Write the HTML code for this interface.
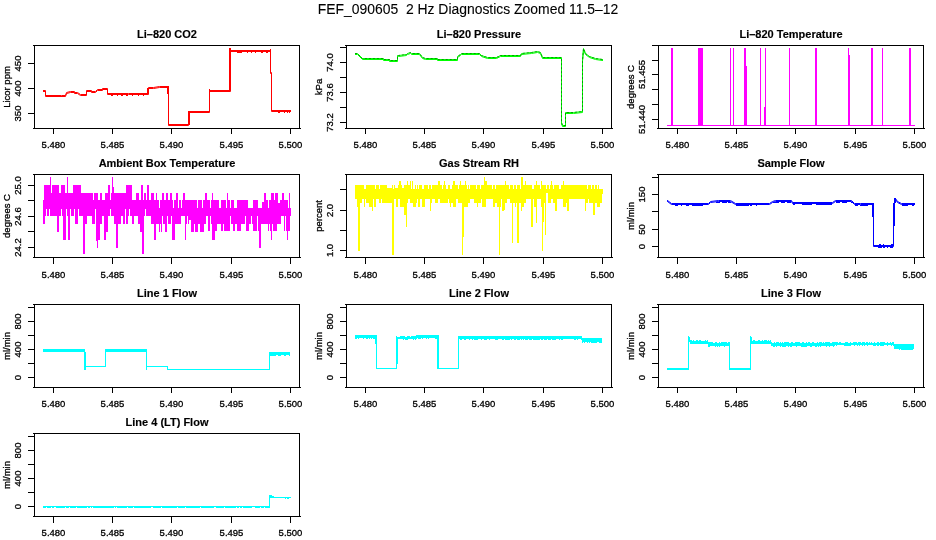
<!DOCTYPE html>
<html><head><meta charset="utf-8"><title>FEF_090605 2 Hz Diagnostics Zoomed 11.5-12</title>
<style>
html,body{margin:0;padding:0;background:#fff;}
body{width:936px;height:540px;overflow:hidden;font-family:"Liberation Sans",sans-serif;}
svg{display:block;will-change:transform;}
text{stroke:#000;stroke-width:0.3px;}
text.b{stroke-width:0.15px;}
text.m{stroke-width:0.1px;}
</style></head><body>
<svg width="936" height="540" viewBox="0 0 936 540" font-family="'Liberation Sans', sans-serif" fill="#000">
<text x="468" y="13.6" text-anchor="middle" font-size="13.92" xml:space="preserve" style="white-space:pre" class="m">FEF_090605  2 Hz Diagnostics Zoomed 11.5–12</text>
<g shape-rendering="crispEdges" fill="#000">
<rect x="33" y="45" width="267" height="1"/>
<rect x="33" y="128" width="268" height="1"/>
<rect x="34" y="45" width="1" height="84"/>
<rect x="299" y="45" width="1" height="84"/>
<rect x="53" y="129" width="1" height="5"/>
<rect x="112" y="129" width="1" height="5"/>
<rect x="171" y="129" width="1" height="5"/>
<rect x="231" y="129" width="1" height="5"/>
<rect x="290" y="129" width="1" height="5"/>
<rect x="28" y="63" width="6" height="1"/>
<rect x="28" y="88" width="6" height="1"/>
<rect x="28" y="113" width="6" height="1"/>
</g>
<text x="53.5" y="148.2" text-anchor="middle" font-size="9.5">5.480</text>
<text x="112.5" y="148.2" text-anchor="middle" font-size="9.5">5.485</text>
<text x="171.5" y="148.2" text-anchor="middle" font-size="9.5">5.490</text>
<text x="231.5" y="148.2" text-anchor="middle" font-size="9.5">5.495</text>
<text x="290.5" y="148.2" text-anchor="middle" font-size="9.5">5.500</text>
<text transform="translate(21.3 63.5) rotate(-90)" text-anchor="middle" font-size="9.5">450</text>
<text transform="translate(21.3 88.5) rotate(-90)" text-anchor="middle" font-size="9.5">400</text>
<text transform="translate(21.3 113.5) rotate(-90)" text-anchor="middle" font-size="9.5">350</text>
<text transform="translate(10 87) rotate(-90)" text-anchor="middle" font-size="9.5">Licor ppm</text>
<text x="167" y="38" text-anchor="middle" font-size="11" font-weight="bold" class="b">Li–820 CO2</text>
<g shape-rendering="crispEdges" fill="#000">
<rect x="345" y="45" width="267" height="1"/>
<rect x="345" y="128" width="268" height="1"/>
<rect x="346" y="45" width="1" height="84"/>
<rect x="611" y="45" width="1" height="84"/>
<rect x="365" y="129" width="1" height="5"/>
<rect x="424" y="129" width="1" height="5"/>
<rect x="483" y="129" width="1" height="5"/>
<rect x="543" y="129" width="1" height="5"/>
<rect x="602" y="129" width="1" height="5"/>
<rect x="340" y="47" width="6" height="1"/>
<rect x="340" y="62" width="6" height="1"/>
<rect x="340" y="77" width="6" height="1"/>
<rect x="340" y="92" width="6" height="1"/>
<rect x="340" y="107" width="6" height="1"/>
<rect x="340" y="122" width="6" height="1"/>
</g>
<text x="365.5" y="148.2" text-anchor="middle" font-size="9.5">5.480</text>
<text x="424.5" y="148.2" text-anchor="middle" font-size="9.5">5.485</text>
<text x="483.5" y="148.2" text-anchor="middle" font-size="9.5">5.490</text>
<text x="543.5" y="148.2" text-anchor="middle" font-size="9.5">5.495</text>
<text x="602.5" y="148.2" text-anchor="middle" font-size="9.5">5.500</text>
<text transform="translate(333.3 62.5) rotate(-90)" text-anchor="middle" font-size="9.5">74.0</text>
<text transform="translate(333.3 92.5) rotate(-90)" text-anchor="middle" font-size="9.5">73.6</text>
<text transform="translate(333.3 122.5) rotate(-90)" text-anchor="middle" font-size="9.5">73.2</text>
<text transform="translate(322 87) rotate(-90)" text-anchor="middle" font-size="9.5">kPa</text>
<text x="479" y="38" text-anchor="middle" font-size="11" font-weight="bold" class="b">Li–820 Pressure</text>
<g shape-rendering="crispEdges" fill="#000">
<rect x="657" y="45" width="267" height="1"/>
<rect x="657" y="128" width="268" height="1"/>
<rect x="658" y="45" width="1" height="84"/>
<rect x="923" y="45" width="1" height="84"/>
<rect x="677" y="129" width="1" height="5"/>
<rect x="736" y="129" width="1" height="5"/>
<rect x="795" y="129" width="1" height="5"/>
<rect x="855" y="129" width="1" height="5"/>
<rect x="914" y="129" width="1" height="5"/>
<rect x="652" y="45" width="6" height="1"/>
<rect x="652" y="60" width="6" height="1"/>
<rect x="652" y="74" width="6" height="1"/>
<rect x="652" y="89" width="6" height="1"/>
<rect x="652" y="104" width="6" height="1"/>
<rect x="652" y="119" width="6" height="1"/>
</g>
<text x="677.5" y="148.2" text-anchor="middle" font-size="9.5">5.480</text>
<text x="736.5" y="148.2" text-anchor="middle" font-size="9.5">5.485</text>
<text x="795.5" y="148.2" text-anchor="middle" font-size="9.5">5.490</text>
<text x="855.5" y="148.2" text-anchor="middle" font-size="9.5">5.495</text>
<text x="914.5" y="148.2" text-anchor="middle" font-size="9.5">5.500</text>
<text transform="translate(645.3 74.5) rotate(-90)" text-anchor="middle" font-size="9.5">51.455</text>
<text transform="translate(645.3 119.5) rotate(-90)" text-anchor="middle" font-size="9.5">51.440</text>
<text transform="translate(634 87) rotate(-90)" text-anchor="middle" font-size="9.5">degrees C</text>
<text x="791" y="38" text-anchor="middle" font-size="11" font-weight="bold" class="b">Li–820 Temperature</text>
<g shape-rendering="crispEdges" fill="#000">
<rect x="33" y="174" width="267" height="1"/>
<rect x="33" y="257" width="268" height="1"/>
<rect x="34" y="174" width="1" height="84"/>
<rect x="299" y="174" width="1" height="84"/>
<rect x="53" y="258" width="1" height="6"/>
<rect x="112" y="258" width="1" height="6"/>
<rect x="171" y="258" width="1" height="6"/>
<rect x="231" y="258" width="1" height="6"/>
<rect x="290" y="258" width="1" height="6"/>
<rect x="28" y="185" width="6" height="1"/>
<rect x="28" y="200" width="6" height="1"/>
<rect x="28" y="216" width="6" height="1"/>
<rect x="28" y="231" width="6" height="1"/>
<rect x="28" y="247" width="6" height="1"/>
</g>
<text x="53.5" y="278" text-anchor="middle" font-size="9.5">5.480</text>
<text x="112.5" y="278" text-anchor="middle" font-size="9.5">5.485</text>
<text x="171.5" y="278" text-anchor="middle" font-size="9.5">5.490</text>
<text x="231.5" y="278" text-anchor="middle" font-size="9.5">5.495</text>
<text x="290.5" y="278" text-anchor="middle" font-size="9.5">5.500</text>
<text transform="translate(21.3 185.5) rotate(-90)" text-anchor="middle" font-size="9.5">25.0</text>
<text transform="translate(21.3 216.5) rotate(-90)" text-anchor="middle" font-size="9.5">24.6</text>
<text transform="translate(21.3 247.5) rotate(-90)" text-anchor="middle" font-size="9.5">24.2</text>
<text transform="translate(10 216) rotate(-90)" text-anchor="middle" font-size="9.5">degrees C</text>
<text x="167" y="167" text-anchor="middle" font-size="11" font-weight="bold" class="b">Ambient Box Temperature</text>
<g shape-rendering="crispEdges" fill="#000">
<rect x="345" y="174" width="267" height="1"/>
<rect x="345" y="257" width="268" height="1"/>
<rect x="346" y="174" width="1" height="84"/>
<rect x="611" y="174" width="1" height="84"/>
<rect x="365" y="258" width="1" height="6"/>
<rect x="424" y="258" width="1" height="6"/>
<rect x="483" y="258" width="1" height="6"/>
<rect x="543" y="258" width="1" height="6"/>
<rect x="602" y="258" width="1" height="6"/>
<rect x="340" y="189" width="6" height="1"/>
<rect x="340" y="210" width="6" height="1"/>
<rect x="340" y="230" width="6" height="1"/>
<rect x="340" y="250" width="6" height="1"/>
</g>
<text x="365.5" y="278" text-anchor="middle" font-size="9.5">5.480</text>
<text x="424.5" y="278" text-anchor="middle" font-size="9.5">5.485</text>
<text x="483.5" y="278" text-anchor="middle" font-size="9.5">5.490</text>
<text x="543.5" y="278" text-anchor="middle" font-size="9.5">5.495</text>
<text x="602.5" y="278" text-anchor="middle" font-size="9.5">5.500</text>
<text transform="translate(333.3 210.5) rotate(-90)" text-anchor="middle" font-size="9.5">2.0</text>
<text transform="translate(333.3 250.5) rotate(-90)" text-anchor="middle" font-size="9.5">1.0</text>
<text transform="translate(322 216) rotate(-90)" text-anchor="middle" font-size="9.5">percent</text>
<text x="479" y="167" text-anchor="middle" font-size="11" font-weight="bold" class="b">Gas Stream RH</text>
<g shape-rendering="crispEdges" fill="#000">
<rect x="657" y="174" width="267" height="1"/>
<rect x="657" y="257" width="268" height="1"/>
<rect x="658" y="174" width="1" height="84"/>
<rect x="923" y="174" width="1" height="84"/>
<rect x="677" y="258" width="1" height="6"/>
<rect x="736" y="258" width="1" height="6"/>
<rect x="795" y="258" width="1" height="6"/>
<rect x="855" y="258" width="1" height="6"/>
<rect x="914" y="258" width="1" height="6"/>
<rect x="652" y="177" width="6" height="1"/>
<rect x="652" y="194" width="6" height="1"/>
<rect x="652" y="211" width="6" height="1"/>
<rect x="652" y="229" width="6" height="1"/>
<rect x="652" y="246" width="6" height="1"/>
</g>
<text x="677.5" y="278" text-anchor="middle" font-size="9.5">5.480</text>
<text x="736.5" y="278" text-anchor="middle" font-size="9.5">5.485</text>
<text x="795.5" y="278" text-anchor="middle" font-size="9.5">5.490</text>
<text x="855.5" y="278" text-anchor="middle" font-size="9.5">5.495</text>
<text x="914.5" y="278" text-anchor="middle" font-size="9.5">5.500</text>
<text transform="translate(645.3 194.5) rotate(-90)" text-anchor="middle" font-size="9.5">150</text>
<text transform="translate(645.3 229.5) rotate(-90)" text-anchor="middle" font-size="9.5">50</text>
<text transform="translate(645.3 246.5) rotate(-90)" text-anchor="middle" font-size="9.5">0</text>
<text transform="translate(634 216) rotate(-90)" text-anchor="middle" font-size="9.5">ml/min</text>
<text x="791" y="167" text-anchor="middle" font-size="11" font-weight="bold" class="b">Sample Flow</text>
<g shape-rendering="crispEdges" fill="#000">
<rect x="33" y="304" width="267" height="1"/>
<rect x="33" y="387" width="268" height="1"/>
<rect x="34" y="304" width="1" height="84"/>
<rect x="299" y="304" width="1" height="84"/>
<rect x="53" y="388" width="1" height="5"/>
<rect x="112" y="388" width="1" height="5"/>
<rect x="171" y="388" width="1" height="5"/>
<rect x="231" y="388" width="1" height="5"/>
<rect x="290" y="388" width="1" height="5"/>
<rect x="28" y="307" width="6" height="1"/>
<rect x="28" y="321" width="6" height="1"/>
<rect x="28" y="335" width="6" height="1"/>
<rect x="28" y="349" width="6" height="1"/>
<rect x="28" y="363" width="6" height="1"/>
<rect x="28" y="377" width="6" height="1"/>
</g>
<text x="53.5" y="407.2" text-anchor="middle" font-size="9.5">5.480</text>
<text x="112.5" y="407.2" text-anchor="middle" font-size="9.5">5.485</text>
<text x="171.5" y="407.2" text-anchor="middle" font-size="9.5">5.490</text>
<text x="231.5" y="407.2" text-anchor="middle" font-size="9.5">5.495</text>
<text x="290.5" y="407.2" text-anchor="middle" font-size="9.5">5.500</text>
<text transform="translate(21.3 321.5) rotate(-90)" text-anchor="middle" font-size="9.5">800</text>
<text transform="translate(21.3 349.5) rotate(-90)" text-anchor="middle" font-size="9.5">400</text>
<text transform="translate(21.3 377.5) rotate(-90)" text-anchor="middle" font-size="9.5">0</text>
<text transform="translate(10 346) rotate(-90)" text-anchor="middle" font-size="9.5">ml/min</text>
<text x="167" y="297" text-anchor="middle" font-size="11" font-weight="bold" class="b">Line 1 Flow</text>
<g shape-rendering="crispEdges" fill="#000">
<rect x="345" y="304" width="267" height="1"/>
<rect x="345" y="387" width="268" height="1"/>
<rect x="346" y="304" width="1" height="84"/>
<rect x="611" y="304" width="1" height="84"/>
<rect x="365" y="388" width="1" height="5"/>
<rect x="424" y="388" width="1" height="5"/>
<rect x="483" y="388" width="1" height="5"/>
<rect x="543" y="388" width="1" height="5"/>
<rect x="602" y="388" width="1" height="5"/>
<rect x="340" y="307" width="6" height="1"/>
<rect x="340" y="321" width="6" height="1"/>
<rect x="340" y="335" width="6" height="1"/>
<rect x="340" y="349" width="6" height="1"/>
<rect x="340" y="363" width="6" height="1"/>
<rect x="340" y="377" width="6" height="1"/>
</g>
<text x="365.5" y="407.2" text-anchor="middle" font-size="9.5">5.480</text>
<text x="424.5" y="407.2" text-anchor="middle" font-size="9.5">5.485</text>
<text x="483.5" y="407.2" text-anchor="middle" font-size="9.5">5.490</text>
<text x="543.5" y="407.2" text-anchor="middle" font-size="9.5">5.495</text>
<text x="602.5" y="407.2" text-anchor="middle" font-size="9.5">5.500</text>
<text transform="translate(333.3 321.5) rotate(-90)" text-anchor="middle" font-size="9.5">800</text>
<text transform="translate(333.3 349.5) rotate(-90)" text-anchor="middle" font-size="9.5">400</text>
<text transform="translate(333.3 377.5) rotate(-90)" text-anchor="middle" font-size="9.5">0</text>
<text transform="translate(322 346) rotate(-90)" text-anchor="middle" font-size="9.5">ml/min</text>
<text x="479" y="297" text-anchor="middle" font-size="11" font-weight="bold" class="b">Line 2 Flow</text>
<g shape-rendering="crispEdges" fill="#000">
<rect x="657" y="304" width="267" height="1"/>
<rect x="657" y="387" width="268" height="1"/>
<rect x="658" y="304" width="1" height="84"/>
<rect x="923" y="304" width="1" height="84"/>
<rect x="677" y="388" width="1" height="5"/>
<rect x="736" y="388" width="1" height="5"/>
<rect x="795" y="388" width="1" height="5"/>
<rect x="855" y="388" width="1" height="5"/>
<rect x="914" y="388" width="1" height="5"/>
<rect x="652" y="307" width="6" height="1"/>
<rect x="652" y="321" width="6" height="1"/>
<rect x="652" y="335" width="6" height="1"/>
<rect x="652" y="349" width="6" height="1"/>
<rect x="652" y="363" width="6" height="1"/>
<rect x="652" y="377" width="6" height="1"/>
</g>
<text x="677.5" y="407.2" text-anchor="middle" font-size="9.5">5.480</text>
<text x="736.5" y="407.2" text-anchor="middle" font-size="9.5">5.485</text>
<text x="795.5" y="407.2" text-anchor="middle" font-size="9.5">5.490</text>
<text x="855.5" y="407.2" text-anchor="middle" font-size="9.5">5.495</text>
<text x="914.5" y="407.2" text-anchor="middle" font-size="9.5">5.500</text>
<text transform="translate(645.3 321.5) rotate(-90)" text-anchor="middle" font-size="9.5">800</text>
<text transform="translate(645.3 349.5) rotate(-90)" text-anchor="middle" font-size="9.5">400</text>
<text transform="translate(645.3 377.5) rotate(-90)" text-anchor="middle" font-size="9.5">0</text>
<text transform="translate(634 346) rotate(-90)" text-anchor="middle" font-size="9.5">ml/min</text>
<text x="791" y="297" text-anchor="middle" font-size="11" font-weight="bold" class="b">Line 3 Flow</text>
<g shape-rendering="crispEdges" fill="#000">
<rect x="33" y="433" width="267" height="1"/>
<rect x="33" y="516" width="268" height="1"/>
<rect x="34" y="433" width="1" height="84"/>
<rect x="299" y="433" width="1" height="84"/>
<rect x="53" y="517" width="1" height="6"/>
<rect x="112" y="517" width="1" height="6"/>
<rect x="171" y="517" width="1" height="6"/>
<rect x="231" y="517" width="1" height="6"/>
<rect x="290" y="517" width="1" height="6"/>
<rect x="28" y="436" width="6" height="1"/>
<rect x="28" y="450" width="6" height="1"/>
<rect x="28" y="464" width="6" height="1"/>
<rect x="28" y="478" width="6" height="1"/>
<rect x="28" y="492" width="6" height="1"/>
<rect x="28" y="506" width="6" height="1"/>
</g>
<text x="53.5" y="536.3" text-anchor="middle" font-size="9.5">5.480</text>
<text x="112.5" y="536.3" text-anchor="middle" font-size="9.5">5.485</text>
<text x="171.5" y="536.3" text-anchor="middle" font-size="9.5">5.490</text>
<text x="231.5" y="536.3" text-anchor="middle" font-size="9.5">5.495</text>
<text x="290.5" y="536.3" text-anchor="middle" font-size="9.5">5.500</text>
<text transform="translate(21.3 450.5) rotate(-90)" text-anchor="middle" font-size="9.5">800</text>
<text transform="translate(21.3 478.5) rotate(-90)" text-anchor="middle" font-size="9.5">400</text>
<text transform="translate(21.3 506.5) rotate(-90)" text-anchor="middle" font-size="9.5">0</text>
<text transform="translate(10 475) rotate(-90)" text-anchor="middle" font-size="9.5">ml/min</text>
<text x="167" y="426" text-anchor="middle" font-size="11" font-weight="bold" class="b">Line 4 (LT) Flow</text>
<path d="M43.5 90.5 L45.5 90.5 L45.5 95.5 L61.5 95.5 L65.5 95.5 L66.5 92.5 L70.5 91.5 L74.5 91.5 L74.5 92.5 L77.5 92.5 L80.5 94.5 L86.5 94.5 L86.5 90.5 L91.5 90.5 L91.5 91.5 L95.5 91.5 L97.5 89.5 L102.5 89.5 L102.5 88.5 L107.5 88.5 L107.5 93.5 L128.5 93.5 L148.5 93.5 L148.5 87.5 L153.5 87.5 L159.5 86.5 L167.5 86.5 L168.5 87.5 L168.5 124.5 L188.5 124.5 L188.5 111.5 L209.5 111.5 L209.5 90.5 L230.5 90.5 L230.5 48.5 L230.5 50.5 L270.5 50.5 L270.5 72.5 L271.5 72.5 L271.5 96.5 L271.5 110.5 L290.5 110.5" fill="none" stroke="#ff0000" stroke-width="1" stroke-linejoin="miter" stroke-linecap="square" />
<path d="M43.5 91.5 L45.5 91.5 L45.5 96.5 L61.5 96.5 L65.5 96.5 L66.5 93.5 L70.5 92.5 L74.5 92.5 L74.5 93.5 L77.5 93.5 L80.5 95.5 L86.5 95.5 L86.5 91.5 L91.5 91.5 L91.5 92.5 L95.5 92.5 L97.5 90.5 L102.5 90.5 L102.5 89.5 L107.5 89.5 L107.5 94.5 L128.5 94.5 L148.5 94.5 L148.5 88.5 L153.5 88.5 L159.5 87.5 L167.5 87.5 L168.5 88.5 L168.5 125.5 L188.5 125.5 L188.5 112.5 L209.5 112.5 L209.5 91.5 L230.5 91.5 L230.5 49.5 L230.5 51.5 L270.5 51.5 L270.5 73.5 L271.5 73.5 L271.5 97.5 L271.5 111.5 L290.5 111.5" fill="none" stroke="#ff0000" stroke-width="1" stroke-linejoin="miter" stroke-linecap="square" />
<g shape-rendering="crispEdges">
<rect x="229" y="48" width="2" height="43" fill="#ff0000"/>
<rect x="271" y="73" width="1" height="25" fill="#ff0000"/>
<rect x="188" y="111" width="2" height="14" fill="#ff0000"/>
<rect x="167" y="86" width="2" height="8" fill="#ff0000"/>
<rect x="209" y="89" width="1" height="3" fill="#ff0000"/>
<rect x="270" y="49" width="1" height="3" fill="#ff0000"/>
<rect x="147" y="88" width="2" height="6" fill="#ff0000"/>
<rect x="111" y="95" width="2" height="1" fill="#ff0000"/>
<rect x="117" y="95" width="1" height="1" fill="#ff0000"/>
<rect x="121" y="95" width="2" height="1" fill="#ff0000"/>
<rect x="126" y="95" width="2" height="1" fill="#ff0000"/>
<rect x="132" y="95" width="1" height="1" fill="#ff0000"/>
<rect x="138" y="95" width="1" height="1" fill="#ff0000"/>
<rect x="143" y="95" width="1" height="1" fill="#ff0000"/>
<rect x="173" y="125" width="1" height="1" fill="#ff0000"/>
<rect x="180" y="125" width="1" height="1" fill="#ff0000"/>
<rect x="186" y="125" width="2" height="1" fill="#ff0000"/>
<rect x="195" y="112" width="2" height="1" fill="#ff0000"/>
<rect x="198" y="112" width="1" height="1" fill="#ff0000"/>
<rect x="205" y="112" width="1" height="1" fill="#ff0000"/>
<rect x="237" y="52" width="2" height="1" fill="#ff0000"/>
<rect x="239" y="52" width="2" height="1" fill="#ff0000"/>
<rect x="241" y="52" width="1" height="1" fill="#ff0000"/>
<rect x="247" y="52" width="1" height="1" fill="#ff0000"/>
<rect x="251" y="52" width="1" height="1" fill="#ff0000"/>
<rect x="255" y="52" width="1" height="1" fill="#ff0000"/>
<rect x="261" y="52" width="2" height="1" fill="#ff0000"/>
<rect x="266" y="52" width="2" height="1" fill="#ff0000"/>
<rect x="278" y="112" width="2" height="1" fill="#ff0000"/>
<rect x="284" y="112" width="1" height="1" fill="#ff0000"/>
<rect x="287" y="112" width="1" height="1" fill="#ff0000"/>
<rect x="289" y="112" width="1" height="1" fill="#ff0000"/>
<rect x="51" y="96" width="1" height="1" fill="#ff0000"/>
<rect x="55" y="96" width="2" height="1" fill="#ff0000"/>
<rect x="60" y="96" width="2" height="1" fill="#ff0000"/>
</g>
<path d="M355.5 53.5 L357.5 53.5 L362.5 58.5 L383.5 58.5 L383.5 59.5 L389.5 59.5 L389.5 60.5 L397.5 60.5 L397.5 55.5 L398.5 55.5 L406.5 54.5 L407.5 53.5 L410.5 52.5 L411.5 53.5 L419.5 53.5 L422.5 57.5 L425.5 58.5 L437.5 58.5 L437.5 59.5 L457.5 59.5 L457.5 56.5 L460.5 54.5 L461.5 53.5 L479.5 53.5 L481.5 55.5 L487.5 57.5 L496.5 57.5 L500.5 55.5 L520.5 55.5 L521.5 53.5 L531.5 52.5 L537.5 51.5 L540.5 52.5 L542.5 57.5 L561.5 57.5 L561.5 122.5 L562.5 125.5 L565.5 125.5 L565.5 112.5 L573.5 112.5 L582.5 111.5 L582.5 60.5 L583.5 48.5 L585.5 53.5 L589.5 56.5 L595.5 58.5 L602.5 59.5" fill="none" stroke="#00ff00" stroke-width="1" stroke-linejoin="miter" stroke-linecap="square" />
<path d="M355.5 54.5 L357.5 54.5 L362.5 59.5 L383.5 59.5 L383.5 60.5 L389.5 60.5 L389.5 61.5 L397.5 61.5 L397.5 56.5 L398.5 56.5 L406.5 55.5 L407.5 54.5 L410.5 53.5 L411.5 54.5 L419.5 54.5 L422.5 58.5 L425.5 59.5 L437.5 59.5 L437.5 60.5 L457.5 60.5 L457.5 57.5 L460.5 55.5 L461.5 54.5 L479.5 54.5 L481.5 56.5 L487.5 58.5 L496.5 58.5 L500.5 56.5 L520.5 56.5 L521.5 54.5 L531.5 53.5 L537.5 52.5 L540.5 53.5 L542.5 58.5 L561.5 58.5 L561.5 123.5 L562.5 126.5 L565.5 126.5 L565.5 113.5 L573.5 113.5 L582.5 112.5 L582.5 61.5 L583.5 49.5 L585.5 54.5 L589.5 57.5 L595.5 59.5 L602.5 60.5" fill="none" stroke="#00ff00" stroke-width="1" stroke-linejoin="miter" stroke-linecap="square" />
<path d="M355.5 53.5 L357.5 53.5 L362.5 58.5 L383.5 58.5 L383.5 59.5 L389.5 59.5 L389.5 60.5 L397.5 60.5 L397.5 55.5 L398.5 55.5 L406.5 54.5 L407.5 53.5 L410.5 52.5 L411.5 53.5 L419.5 53.5 L422.5 57.5 L425.5 58.5 L437.5 58.5 L437.5 59.5 L457.5 59.5 L457.5 56.5 L460.5 54.5 L461.5 53.5 L479.5 53.5 L481.5 55.5 L487.5 57.5 L496.5 57.5 L500.5 55.5 L520.5 55.5 L521.5 53.5 L531.5 52.5 L537.5 51.5 L540.5 52.5 L542.5 57.5 L561.5 57.5 L561.5 122.5 L562.5 125.5 L565.5 125.5 L565.5 112.5 L573.5 112.5 L582.5 111.5 L582.5 60.5 L583.5 48.5 L585.5 53.5 L589.5 56.5 L595.5 58.5 L602.5 59.5" fill="none" stroke="#007700" stroke-width="1" stroke-linejoin="miter" stroke-linecap="square" stroke-dasharray="1 3" opacity="0.7"/>
<g shape-rendering="crispEdges">
<rect x="667" y="125" width="248" height="1" fill="#ff00ff"/>
<rect x="671" y="48" width="2" height="78" fill="#ff00ff"/>
<rect x="698" y="48" width="5" height="78" fill="#ff00ff"/>
<rect x="730" y="48" width="1" height="78" fill="#ff00ff"/>
<rect x="733" y="48" width="1" height="78" fill="#ff00ff"/>
<rect x="744" y="48" width="2" height="78" fill="#ff00ff"/>
<rect x="746" y="66" width="1" height="60" fill="#ff00ff"/>
<rect x="760" y="48" width="1" height="78" fill="#ff00ff"/>
<rect x="765" y="48" width="1" height="78" fill="#ff00ff"/>
<rect x="764" y="107" width="1" height="19" fill="#ff00ff"/>
<rect x="789" y="48" width="1" height="78" fill="#ff00ff"/>
<rect x="815" y="48" width="2" height="78" fill="#ff00ff"/>
<rect x="848" y="48" width="1" height="78" fill="#ff00ff"/>
<rect x="849" y="55" width="1" height="71" fill="#ff00ff"/>
<rect x="871" y="48" width="2" height="78" fill="#ff00ff"/>
<rect x="882" y="48" width="1" height="78" fill="#ff00ff"/>
<rect x="909" y="48" width="2" height="78" fill="#ff00ff"/>
</g>
<path d="M43 200.04 L44 200.04 L44 185.04 L45 185.04 L45 185.04 L46 185.04 L46 185.04 L47 185.04 L47 185.04 L48 185.04 L48 185.04 L49 185.04 L49 185.04 L50 185.04 L50 177.22 L51 177.22 L51 192.87 L52 192.87 L52 185.04 L53 185.04 L53 185.04 L54 185.04 L54 185.04 L55 185.04 L55 185.04 L56 185.04 L56 185.04 L57 185.04 L57 185.04 L58 185.04 L58 185.04 L59 185.04 L59 192.87 L60 192.87 L60 192.87 L61 192.87 L61 185.04 L62 185.04 L62 185.04 L63 185.04 L63 185.04 L64 185.04 L64 185.04 L65 185.04 L65 192.87 L66 192.87 L66 192.87 L67 192.87 L67 177.22 L68 177.22 L68 192.87 L69 192.87 L69 192.87 L70 192.87 L70 192.87 L71 192.87 L71 192.87 L72 192.87 L72 192.87 L73 192.87 L73 185.04 L74 185.04 L74 185.04 L75 185.04 L75 185.04 L76 185.04 L76 185.04 L77 185.04 L77 185.04 L78 185.04 L78 185.04 L79 185.04 L79 185.04 L80 185.04 L80 185.04 L81 185.04 L81 192.87 L82 192.87 L82 192.87 L83 192.87 L83 192.87 L84 192.87 L84 192.87 L85 192.87 L85 192.87 L86 192.87 L86 192.87 L87 192.87 L87 192.87 L88 192.87 L88 192.87 L89 192.87 L89 192.87 L90 192.87 L90 192.87 L91 192.87 L91 192.87 L92 192.87 L92 192.87 L93 192.87 L93 200.04 L94 200.04 L94 192.87 L95 192.87 L95 192.87 L96 192.87 L96 192.87 L97 192.87 L97 192.87 L98 192.87 L98 200.04 L99 200.04 L99 200.04 L100 200.04 L100 192.87 L101 192.87 L101 192.87 L102 192.87 L102 200.04 L103 200.04 L103 200.04 L104 200.04 L104 200.04 L105 200.04 L105 192.87 L106 192.87 L106 192.87 L107 192.87 L107 192.87 L108 192.87 L108 185.04 L109 185.04 L109 185.04 L110 185.04 L110 200.04 L111 200.04 L111 192.87 L112 192.87 L112 177.22 L113 177.22 L113 187.49 L114 187.49 L114 192.87 L115 192.87 L115 192.87 L116 192.87 L116 192.87 L117 192.87 L117 192.87 L118 192.87 L118 192.87 L119 192.87 L119 192.87 L120 192.87 L120 192.87 L121 192.87 L121 192.87 L122 192.87 L122 192.87 L123 192.87 L123 192.87 L124 192.87 L124 192.87 L125 192.87 L125 192.87 L126 192.87 L126 185.04 L127 185.04 L127 185.04 L128 185.04 L128 185.04 L129 185.04 L129 185.04 L130 185.04 L130 185.04 L131 185.04 L131 185.04 L132 185.04 L132 200.04 L133 200.04 L133 200.04 L134 200.04 L134 200.04 L135 200.04 L135 200.04 L136 200.04 L136 192.87 L137 192.87 L137 192.87 L138 192.87 L138 192.87 L139 192.87 L139 200.04 L140 200.04 L140 200.04 L141 200.04 L141 185.04 L142 185.04 L142 185.04 L143 185.04 L143 200.04 L144 200.04 L144 192.87 L145 192.87 L145 192.87 L146 192.87 L146 200.04 L147 200.04 L147 185.04 L148 185.04 L148 185.04 L149 185.04 L149 200.04 L150 200.04 L150 200.04 L151 200.04 L151 192.87 L152 192.87 L152 192.87 L153 192.87 L153 192.87 L154 192.87 L154 200.04 L155 200.04 L155 200.04 L156 200.04 L156 192.87 L157 192.87 L157 200.04 L158 200.04 L158 200.04 L159 200.04 L159 207.9 L160 207.9 L160 200.04 L161 200.04 L161 200.04 L162 200.04 L162 192.87 L163 192.87 L163 192.87 L164 192.87 L164 200.04 L165 200.04 L165 200.04 L166 200.04 L166 192.87 L167 192.87 L167 192.87 L168 192.87 L168 200.04 L169 200.04 L169 200.04 L170 200.04 L170 192.87 L171 192.87 L171 192.87 L172 192.87 L172 200.04 L173 200.04 L173 207.87 L174 207.87 L174 200.04 L175 200.04 L175 200.04 L176 200.04 L176 192.87 L177 192.87 L177 192.87 L178 192.87 L178 207.9 L179 207.9 L179 200.04 L180 200.04 L180 200.04 L181 200.04 L181 207.87 L182 207.87 L182 200.04 L183 200.04 L183 192.87 L184 192.87 L184 192.87 L185 192.87 L185 200.04 L186 200.04 L186 200.04 L187 200.04 L187 200.04 L188 200.04 L188 200.04 L189 200.04 L189 200.04 L190 200.04 L190 200.04 L191 200.04 L191 200.04 L192 200.04 L192 200.04 L193 200.04 L193 200.04 L194 200.04 L194 200.04 L195 200.04 L195 200.04 L196 200.04 L196 200.04 L197 200.04 L197 207.9 L198 207.9 L198 200.04 L199 200.04 L199 200.04 L200 200.04 L200 200.04 L201 200.04 L201 200.04 L202 200.04 L202 207.87 L203 207.87 L203 200.04 L204 200.04 L204 200.04 L205 200.04 L205 192.87 L206 192.87 L206 192.87 L207 192.87 L207 200.04 L208 200.04 L208 200.01 L209 200.01 L209 200.01 L210 200.01 L210 207.9 L211 207.9 L211 200.01 L212 200.01 L212 192.85 L213 192.85 L213 200.01 L214 200.01 L214 200.01 L215 200.01 L215 200.01 L216 200.01 L216 200.01 L217 200.01 L217 200.01 L218 200.01 L218 200.01 L219 200.01 L219 207.83 L220 207.83 L220 207.83 L221 207.83 L221 200.01 L222 200.01 L222 200.01 L223 200.01 L223 200.01 L224 200.01 L224 200.01 L225 200.01 L225 200.01 L226 200.01 L226 207.83 L227 207.83 L227 192.85 L228 192.85 L228 200.01 L229 200.01 L229 200.01 L230 200.01 L230 207.9 L231 207.9 L231 200.01 L232 200.01 L232 200.01 L233 200.01 L233 200.01 L234 200.01 L234 207.83 L235 207.83 L235 207.83 L236 207.83 L236 207.83 L237 207.83 L237 200.01 L238 200.01 L238 200.01 L239 200.01 L239 200.01 L240 200.01 L240 200.01 L241 200.01 L241 200.01 L242 200.01 L242 200.01 L243 200.01 L243 200.01 L244 200.01 L244 200.01 L245 200.01 L245 200.01 L246 200.01 L246 200.01 L247 200.01 L247 200.01 L248 200.01 L248 207.83 L249 207.83 L249 207.83 L250 207.83 L250 207.83 L251 207.83 L251 207.83 L252 207.83 L252 207.83 L253 207.83 L253 200.01 L254 200.01 L254 200.01 L255 200.01 L255 200.01 L256 200.01 L256 200.01 L257 200.01 L257 200.01 L258 200.01 L258 207.83 L259 207.83 L259 207.83 L260 207.83 L260 207.83 L261 207.83 L261 207.83 L262 207.83 L262 202.13 L263 202.13 L263 202.13 L264 202.13 L264 192.85 L265 192.85 L265 192.85 L266 192.85 L266 200.01 L267 200.01 L267 200.01 L268 200.01 L268 207.9 L269 207.9 L269 200.01 L270 200.01 L270 200.01 L271 200.01 L271 192.85 L272 192.85 L272 192.85 L273 192.85 L273 192.85 L274 192.85 L274 200.01 L275 200.01 L275 192.85 L276 192.85 L276 192.85 L277 192.85 L277 192.85 L278 192.85 L278 202.94 L279 202.94 L279 202.94 L280 202.94 L280 200.01 L281 200.01 L281 200.01 L282 200.01 L282 192.85 L283 192.85 L283 192.85 L284 192.85 L284 200.01 L285 200.01 L285 200.01 L286 200.01 L286 200.01 L287 200.01 L287 200.01 L288 200.01 L288 207.83 L289 207.83 L289 192.85 L290 192.85 L290 207.83 L291 207.83 L291 216.3 L290 216.3 L290 231.45 L289 231.45 L289 231.45 L288 231.45 L288 239.59 L287 239.59 L287 231.45 L286 231.45 L286 216.3 L285 216.3 L285 231.45 L284 231.45 L284 216.3 L283 216.3 L283 216.3 L282 216.3 L282 216.3 L281 216.3 L281 223.79 L280 223.79 L280 223.79 L279 223.79 L279 223.79 L278 223.79 L278 223.79 L277 223.79 L277 231.45 L276 231.45 L276 231.45 L275 231.45 L275 231.45 L274 231.45 L274 231.45 L273 231.45 L273 223.79 L272 223.79 L272 239.59 L271 239.59 L271 231.45 L270 231.45 L270 223.79 L269 223.79 L269 231.45 L268 231.45 L268 223.79 L267 223.79 L267 223.79 L266 223.79 L266 223.79 L265 223.79 L265 223.79 L264 223.79 L264 223.79 L263 223.79 L263 223.79 L262 223.79 L262 223.79 L261 223.79 L261 247.73 L260 247.73 L260 247.73 L259 247.73 L259 231.45 L258 231.45 L258 216.3 L257 216.3 L257 231.45 L256 231.45 L256 231.45 L255 231.45 L255 231.45 L254 231.45 L254 231.45 L253 231.45 L253 223.79 L252 223.79 L252 216.3 L251 216.3 L251 223.79 L250 223.79 L250 223.79 L249 223.79 L249 231.45 L248 231.45 L248 231.45 L247 231.45 L247 231.45 L246 231.45 L246 216.3 L245 216.3 L245 223.79 L244 223.79 L244 223.79 L243 223.79 L243 223.79 L242 223.79 L242 223.79 L241 223.79 L241 231.45 L240 231.45 L240 231.45 L239 231.45 L239 231.45 L238 231.45 L238 231.45 L237 231.45 L237 223.79 L236 223.79 L236 223.79 L235 223.79 L235 231.45 L234 231.45 L234 231.45 L233 231.45 L233 223.79 L232 223.79 L232 223.79 L231 223.79 L231 216.3 L230 216.3 L230 231.45 L229 231.45 L229 231.45 L228 231.45 L228 231.45 L227 231.45 L227 231.45 L226 231.45 L226 231.45 L225 231.45 L225 231.45 L224 231.45 L224 223.79 L223 223.79 L223 231.45 L222 231.45 L222 231.45 L221 231.45 L221 223.79 L220 223.79 L220 223.79 L219 223.79 L219 223.79 L218 223.79 L218 223.79 L217 223.79 L217 231.45 L216 231.45 L216 231.45 L215 231.45 L215 239.59 L214 239.59 L214 239.59 L213 239.59 L213 239.59 L212 239.59 L212 223.79 L211 223.79 L211 216.3 L210 216.3 L210 231.45 L209 231.45 L209 231.45 L208 231.45 L208 216.35 L207 216.35 L207 216.35 L206 216.35 L206 223.85 L205 223.85 L205 223.85 L204 223.85 L204 231.51 L203 231.51 L203 231.51 L202 231.51 L202 231.51 L201 231.51 L201 231.51 L200 231.51 L200 223.85 L199 223.85 L199 223.85 L198 223.85 L198 231.51 L197 231.51 L197 231.51 L196 231.51 L196 231.51 L195 231.51 L195 223.85 L194 223.85 L194 231.51 L193 231.51 L193 231.51 L192 231.51 L192 231.51 L191 231.51 L191 220.1 L190 220.1 L190 220.1 L189 220.1 L189 223.85 L188 223.85 L188 216.3 L187 216.3 L187 223.85 L186 223.85 L186 239.66 L185 239.66 L185 216.35 L184 216.35 L184 216.35 L183 216.35 L183 216.35 L182 216.35 L182 216.35 L181 216.35 L181 223.85 L180 223.85 L180 223.85 L179 223.85 L179 223.85 L178 223.85 L178 223.85 L177 223.85 L177 223.85 L176 223.85 L176 223.85 L175 223.85 L175 239.66 L174 239.66 L174 239.66 L173 239.66 L173 239.66 L172 239.66 L172 216.3 L171 216.3 L171 223.85 L170 223.85 L170 223.85 L169 223.85 L169 223.85 L168 223.85 L168 216.3 L167 216.3 L167 231.51 L166 231.51 L166 231.51 L165 231.51 L165 223.85 L164 223.85 L164 223.85 L163 223.85 L163 216.3 L162 216.3 L162 231.51 L161 231.51 L161 223.85 L160 223.85 L160 231.51 L159 231.51 L159 223.85 L158 223.85 L158 223.85 L157 223.85 L157 223.85 L156 223.85 L156 239.66 L155 239.66 L155 239.66 L154 239.66 L154 223.85 L153 223.85 L153 223.85 L152 223.85 L152 223.85 L151 223.85 L151 216.35 L150 216.35 L150 216.35 L149 216.35 L149 216.35 L148 216.35 L148 216.35 L147 216.35 L147 216.35 L146 216.35 L146 209.2 L145 209.2 L145 216.35 L144 216.35 L144 254.34 L143 254.34 L143 254.34 L142 254.34 L142 231.51 L141 231.51 L141 231.51 L140 231.51 L140 223.85 L139 223.85 L139 223.85 L138 223.85 L138 216.35 L137 216.35 L137 216.35 L136 216.35 L136 216.35 L135 216.35 L135 216.35 L134 216.35 L134 223.85 L133 223.85 L133 223.85 L132 223.85 L132 216.35 L131 216.35 L131 216.35 L130 216.35 L130 209.2 L129 209.2 L129 216.35 L128 216.35 L128 223.85 L127 223.85 L127 223.85 L126 223.85 L126 209.2 L125 209.2 L125 223.85 L124 223.85 L124 223.85 L123 223.85 L123 216.35 L122 216.35 L122 216.35 L121 216.35 L121 223.85 L120 223.85 L120 223.85 L119 223.85 L119 223.85 L118 223.85 L118 247.82 L117 247.82 L117 247.82 L116 247.82 L116 223.85 L115 223.85 L115 223.85 L114 223.85 L114 216.35 L113 216.35 L113 216.35 L112 216.35 L112 216.35 L111 216.35 L111 209.2 L110 209.2 L110 216.35 L109 216.35 L109 216.35 L108 216.35 L108 231.51 L107 231.51 L107 231.51 L106 231.51 L106 239.66 L105 239.66 L105 239.66 L104 239.66 L104 216.35 L103 216.35 L103 216.35 L102 216.35 L102 223.85 L101 223.85 L101 223.85 L100 223.85 L100 239.66 L99 239.66 L99 239.66 L98 239.66 L98 247.82 L97 247.82 L97 241.29 L96 241.29 L96 209.17 L95 209.17 L95 223.85 L94 223.85 L94 223.85 L93 223.85 L93 223.85 L92 223.85 L92 216.35 L91 216.35 L91 216.35 L90 216.35 L90 216.35 L89 216.35 L89 216.35 L88 216.35 L88 216.35 L87 216.35 L87 223.85 L86 223.85 L86 223.85 L85 223.85 L85 254.34 L84 254.34 L84 254.34 L83 254.34 L83 216.35 L82 216.35 L82 216.35 L81 216.35 L81 216.35 L80 216.35 L80 216.35 L79 216.35 L79 209.17 L78 209.17 L78 223.85 L77 223.85 L77 223.85 L76 223.85 L76 223.85 L75 223.85 L75 209.17 L74 209.17 L74 216.35 L73 216.35 L73 216.35 L72 216.35 L72 216.35 L71 216.35 L71 209.2 L70 209.2 L70 239.66 L69 239.66 L69 239.66 L68 239.66 L68 216.35 L67 216.35 L67 209.2 L66 209.2 L66 239.66 L65 239.66 L65 239.66 L64 239.66 L64 239.66 L63 239.66 L63 216.35 L62 216.35 L62 209.2 L61 209.2 L61 216.35 L60 216.35 L60 216.35 L59 216.35 L59 231.51 L58 231.51 L58 231.51 L57 231.51 L57 216.35 L56 216.35 L56 216.35 L55 216.35 L55 216.35 L54 216.35 L54 216.35 L53 216.35 L53 216.35 L52 216.35 L52 216.35 L51 216.35 L51 216.35 L50 216.35 L50 209.17 L49 209.17 L49 216.35 L48 216.35 L48 216.35 L47 216.35 L47 209.2 L46 209.2 L46 216.35 L45 216.35 L45 223.85 L44 223.85 L44 223.85 L43 223.85 Z" fill="#ff00ff" shape-rendering="crispEdges"/>
<path d="M355 185.2 L356 185.2 L356 185.2 L357 185.2 L357 185.2 L358 185.2 L358 185.2 L359 185.2 L359 185.2 L360 185.2 L360 185.2 L361 185.2 L361 185.2 L362 185.2 L362 185.2 L363 185.2 L363 185.2 L364 185.2 L364 188.6 L365 188.6 L365 188.6 L366 188.6 L366 185.2 L367 185.2 L367 185.2 L368 185.2 L368 185.2 L369 185.2 L369 185.2 L370 185.2 L370 185.2 L371 185.2 L371 185.2 L372 185.2 L372 185.2 L373 185.2 L373 185.2 L374 185.2 L374 185.2 L375 185.2 L375 188.6 L376 188.6 L376 185.2 L377 185.2 L377 185.2 L378 185.2 L378 185.2 L379 185.2 L379 188.6 L380 188.6 L380 185.2 L381 185.2 L381 185.2 L382 185.2 L382 185.2 L383 185.2 L383 185.2 L384 185.2 L384 185.2 L385 185.2 L385 185.2 L386 185.2 L386 185.2 L387 185.2 L387 188.3 L388 188.3 L388 188.3 L389 188.3 L389 188.3 L390 188.3 L390 188.3 L391 188.3 L391 188.3 L392 188.3 L392 185.2 L393 185.2 L393 188.6 L394 188.6 L394 185.2 L395 185.2 L395 188.3 L396 188.3 L396 188.3 L397 188.3 L397 188.3 L398 188.3 L398 185.2 L399 185.2 L399 181.3 L400 181.3 L400 181.3 L401 181.3 L401 185.2 L402 185.2 L402 188.3 L403 188.3 L403 188.3 L404 188.3 L404 185.2 L405 185.2 L405 185.2 L406 185.2 L406 185.2 L407 185.2 L407 180.97 L408 180.97 L408 185.2 L409 185.2 L409 185.2 L410 185.2 L410 180.97 L411 180.97 L411 188.6 L412 188.6 L412 180.97 L413 180.97 L413 188.6 L414 188.6 L414 188.6 L415 188.6 L415 185.2 L416 185.2 L416 188.6 L417 188.6 L417 185.2 L418 185.2 L418 188.6 L419 188.6 L419 185.2 L420 185.2 L420 185.2 L421 185.2 L421 185.2 L422 185.2 L422 188.6 L423 188.6 L423 188.6 L424 188.6 L424 185.2 L425 185.2 L425 185.2 L426 185.2 L426 185.2 L427 185.2 L427 185.2 L428 185.2 L428 188.6 L429 188.6 L429 185.2 L430 185.2 L430 185.2 L431 185.2 L431 188.6 L432 188.6 L432 185.2 L433 185.2 L433 185.2 L434 185.2 L434 185.2 L435 185.2 L435 185.2 L436 185.2 L436 185.2 L437 185.2 L437 185.2 L438 185.2 L438 181.3 L439 181.3 L439 181.3 L440 181.3 L440 185.2 L441 185.2 L441 185.2 L442 185.2 L442 188.6 L443 188.6 L443 185.2 L444 185.2 L444 180.97 L445 180.97 L445 185.2 L446 185.2 L446 188.6 L447 188.6 L447 188.6 L448 188.6 L448 185.2 L449 185.2 L449 185.2 L450 185.2 L450 188.6 L451 188.6 L451 188.6 L452 188.6 L452 185.2 L453 185.2 L453 180.97 L454 180.97 L454 180.97 L455 180.97 L455 185.2 L456 185.2 L456 185.2 L457 185.2 L457 185.2 L458 185.2 L458 188.6 L459 188.6 L459 185.2 L460 185.2 L460 180.97 L461 180.97 L461 185.2 L462 185.2 L462 185.2 L463 185.2 L463 185.2 L464 185.2 L464 185.2 L465 185.2 L465 181.3 L466 181.3 L466 185.2 L467 185.2 L467 188.6 L468 188.6 L468 185.2 L469 185.2 L469 188.6 L470 188.6 L470 185.2 L471 185.2 L471 185.2 L472 185.2 L472 185.2 L473 185.2 L473 185.2 L474 185.2 L474 185.2 L475 185.2 L475 185.2 L476 185.2 L476 188.6 L477 188.6 L477 185.2 L478 185.2 L478 185.2 L479 185.2 L479 185.2 L480 185.2 L480 188.6 L481 188.6 L481 185.2 L482 185.2 L482 185.2 L483 185.2 L483 185.2 L484 185.2 L484 176.89 L485 176.89 L485 180.97 L486 180.97 L486 180.97 L487 180.97 L487 185.2 L488 185.2 L488 185.2 L489 185.2 L489 185.2 L490 185.2 L490 185.2 L491 185.2 L491 185.2 L492 185.2 L492 188.6 L493 188.6 L493 185.2 L494 185.2 L494 185.2 L495 185.2 L495 188.6 L496 188.6 L496 185.2 L497 185.2 L497 185.2 L498 185.2 L498 185.2 L499 185.2 L499 185.2 L500 185.2 L500 185.2 L501 185.2 L501 185.2 L502 185.2 L502 185.2 L503 185.2 L503 185.2 L504 185.2 L504 185.2 L505 185.2 L505 180.97 L506 180.97 L506 185.2 L507 185.2 L507 185.2 L508 185.2 L508 185.2 L509 185.2 L509 188.6 L510 188.6 L510 185.2 L511 185.2 L511 185.2 L512 185.2 L512 185.2 L513 185.2 L513 188.6 L514 188.6 L514 185.2 L515 185.2 L515 185.2 L516 185.2 L516 188.6 L517 188.6 L517 185.2 L518 185.2 L518 185.2 L519 185.2 L519 185.2 L520 185.2 L520 188.6 L521 188.6 L521 176.89 L522 176.89 L522 176.89 L523 176.89 L523 185.2 L524 185.2 L524 185.2 L525 185.2 L525 180.96 L526 180.96 L526 185.2 L527 185.2 L527 185.2 L528 185.2 L528 185.2 L529 185.2 L529 185.2 L530 185.2 L530 185.2 L531 185.2 L531 185.2 L532 185.2 L532 188.6 L533 188.6 L533 188.6 L534 188.6 L534 185.2 L535 185.2 L535 185.2 L536 185.2 L536 181.3 L537 181.3 L537 185.2 L538 185.2 L538 185.2 L539 185.2 L539 185.2 L540 185.2 L540 188.6 L541 188.6 L541 180.96 L542 180.96 L542 185.2 L543 185.2 L543 185.2 L544 185.2 L544 185.2 L545 185.2 L545 185.2 L546 185.2 L546 188.6 L547 188.6 L547 185.2 L548 185.2 L548 185.2 L549 185.2 L549 188.6 L550 188.6 L550 185.2 L551 185.2 L551 181.45 L552 181.45 L552 185.2 L553 185.2 L553 188.6 L554 188.6 L554 185.2 L555 185.2 L555 185.2 L556 185.2 L556 185.2 L557 185.2 L557 185.2 L558 185.2 L558 185.2 L559 185.2 L559 188.6 L560 188.6 L560 188.6 L561 188.6 L561 185.2 L562 185.2 L562 185.2 L563 185.2 L563 180.96 L564 180.96 L564 185.2 L565 185.2 L565 185.2 L566 185.2 L566 185.2 L567 185.2 L567 185.2 L568 185.2 L568 185.2 L569 185.2 L569 185.2 L570 185.2 L570 185.2 L571 185.2 L571 185.2 L572 185.2 L572 185.2 L573 185.2 L573 185.2 L574 185.2 L574 185.2 L575 185.2 L575 185.2 L576 185.2 L576 185.2 L577 185.2 L577 185.2 L578 185.2 L578 185.2 L579 185.2 L579 185.2 L580 185.2 L580 185.2 L581 185.2 L581 185.2 L582 185.2 L582 185.2 L583 185.2 L583 185.2 L584 185.2 L584 185.2 L585 185.2 L585 185.2 L586 185.2 L586 185.2 L587 185.2 L587 188.6 L588 188.6 L588 185.2 L589 185.2 L589 185.2 L590 185.2 L590 185.2 L591 185.2 L591 188.6 L592 188.6 L592 185.2 L593 185.2 L593 185.2 L594 185.2 L594 188.6 L595 188.6 L595 185.2 L596 185.2 L596 185.2 L597 185.2 L597 188.6 L598 188.6 L598 185.2 L599 185.2 L599 189.1 L600 189.1 L600 189.1 L601 189.1 L601 189.1 L602 189.1 L602 189.1 L603 189.1 L603 193.99 L602 193.99 L602 202.5 L601 202.5 L601 202.5 L600 202.5 L600 206.53 L599 206.53 L599 206.5 L598 206.5 L598 206.5 L597 206.5 L597 202.5 L596 202.5 L596 202.5 L595 202.5 L595 214.67 L594 214.67 L594 214.67 L593 214.67 L593 202.5 L592 202.5 L592 202.5 L591 202.5 L591 202.5 L590 202.5 L590 202.5 L589 202.5 L589 199 L588 199 L588 202.5 L587 202.5 L587 202.5 L586 202.5 L586 210.6 L585 210.6 L585 198.9 L584 198.9 L584 198.9 L583 198.9 L583 198.9 L582 198.9 L582 198.9 L581 198.9 L581 198.9 L580 198.9 L580 198.9 L579 198.9 L579 198.9 L578 198.9 L578 198.9 L577 198.9 L577 198.9 L576 198.9 L576 198.9 L575 198.9 L575 198.9 L574 198.9 L574 198.9 L573 198.9 L573 198.9 L572 198.9 L572 198.9 L571 198.9 L571 199 L570 199 L570 199 L569 199 L569 210.6 L568 210.6 L568 210.6 L567 210.6 L567 202.5 L566 202.5 L566 206.5 L565 206.5 L565 206.5 L564 206.5 L564 206.5 L563 206.5 L563 199 L562 199 L562 199 L561 199 L561 199 L560 199 L560 199 L559 199 L559 199 L558 199 L558 199 L557 199 L557 210.6 L556 210.6 L556 210.6 L555 210.6 L555 202.5 L554 202.5 L554 202.5 L553 202.5 L553 199 L552 199 L552 199 L551 199 L551 202.5 L550 202.5 L550 202.5 L549 202.5 L549 202.5 L548 202.5 L548 193.17 L547 193.17 L547 193.17 L546 193.17 L546 234.7 L545 234.7 L545 202.5 L544 202.5 L544 221.67 L543 221.67 L543 250.66 L542 250.66 L542 206.5 L541 206.5 L541 199 L540 199 L540 199 L539 199 L539 199 L538 199 L538 199 L537 199 L537 222.81 L536 222.81 L536 206.53 L535 206.53 L535 206.53 L534 206.53 L534 199 L533 199 L533 226.89 L532 226.89 L532 226.89 L531 226.89 L531 199 L530 199 L530 199 L529 199 L529 199 L528 199 L528 199 L527 199 L527 199 L526 199 L526 202.5 L525 202.5 L525 202.5 L524 202.5 L524 206.53 L523 206.53 L523 206.53 L522 206.53 L522 211.09 L521 211.09 L521 202.5 L520 202.5 L520 202.5 L519 202.5 L519 242.85 L518 242.85 L518 242.85 L517 242.85 L517 202.5 L516 202.5 L516 206.57 L515 206.57 L515 202.5 L514 202.5 L514 202.5 L513 202.5 L513 242.92 L512 242.92 L512 202.5 L511 202.5 L511 202.5 L510 202.5 L510 199 L509 199 L509 199 L508 199 L508 199 L507 199 L507 202.5 L506 202.5 L506 202.5 L505 202.5 L505 209.5 L504 209.5 L504 211.13 L503 211.13 L503 211.13 L502 211.13 L502 199 L501 199 L501 206.57 L500 206.57 L500 254.83 L499 254.83 L499 206.5 L498 206.5 L498 206.5 L497 206.5 L497 202.5 L496 202.5 L496 202.5 L495 202.5 L495 206.57 L494 206.57 L494 206.5 L493 206.5 L493 199 L492 199 L492 199 L491 199 L491 199 L490 199 L490 199 L489 199 L489 199 L488 199 L488 199 L487 199 L487 199 L486 199 L486 206.57 L485 206.57 L485 206.57 L484 206.57 L484 206.5 L483 206.5 L483 206.5 L482 206.5 L482 199 L481 199 L481 202.5 L480 202.5 L480 202.5 L479 202.5 L479 202.5 L478 202.5 L478 206.57 L477 206.57 L477 202.5 L476 202.5 L476 202.5 L475 202.5 L475 202.5 L474 202.5 L474 199 L473 199 L473 199 L472 199 L472 199 L471 199 L471 199 L470 199 L470 202.5 L469 202.5 L469 202.5 L468 202.5 L468 206.5 L467 206.5 L467 206.5 L466 206.5 L466 206.57 L465 206.57 L465 206.57 L464 206.57 L464 237.22 L463 237.22 L463 254.83 L462 254.83 L462 202.5 L461 202.5 L461 202.5 L460 202.5 L460 202.5 L459 202.5 L459 202.5 L458 202.5 L458 199 L457 199 L457 199 L456 199 L456 206.57 L455 206.57 L455 206.57 L454 206.57 L454 206.57 L453 206.57 L453 202.5 L452 202.5 L452 202.5 L451 202.5 L451 206.5 L450 206.5 L450 202.5 L449 202.5 L449 199 L448 199 L448 202.5 L447 202.5 L447 202.5 L446 202.5 L446 202.5 L445 202.5 L445 202.5 L444 202.5 L444 202.5 L443 202.5 L443 202.5 L442 202.5 L442 202.5 L441 202.5 L441 202.5 L440 202.5 L440 199 L439 199 L439 199 L438 199 L438 202.5 L437 202.5 L437 202.5 L436 202.5 L436 202.5 L435 202.5 L435 199 L434 199 L434 199 L433 199 L433 199 L432 199 L432 202.5 L431 202.5 L431 211.13 L430 211.13 L430 199 L429 199 L429 199 L428 199 L428 199 L427 199 L427 199 L426 199 L426 199 L425 199 L425 206.57 L424 206.57 L424 206.57 L423 206.57 L423 206.57 L422 206.57 L422 199 L421 199 L421 199 L420 199 L420 206.57 L419 206.57 L419 206.57 L418 206.57 L418 199 L417 199 L417 202.5 L416 202.5 L416 206.57 L415 206.57 L415 206.57 L414 206.57 L414 206.57 L413 206.57 L413 202.5 L412 202.5 L412 202.5 L411 202.5 L411 202.5 L410 202.5 L410 199 L409 199 L409 199 L408 199 L408 202.5 L407 202.5 L407 226.95 L406 226.95 L406 214.72 L405 214.72 L405 214.72 L404 214.72 L404 206.57 L403 206.57 L403 206.57 L402 206.57 L402 206.57 L401 206.57 L401 206.57 L400 206.57 L400 199 L399 199 L399 199 L398 199 L398 206.57 L397 206.57 L397 206.57 L396 206.57 L396 199 L395 199 L395 199 L394 199 L394 254.83 L393 254.83 L393 254.83 L392 254.83 L392 202.5 L391 202.5 L391 202.5 L390 202.5 L390 202.5 L389 202.5 L389 202.5 L388 202.5 L388 202.5 L387 202.5 L387 202.5 L386 202.5 L386 202.5 L385 202.5 L385 202.5 L384 202.5 L384 202.5 L383 202.5 L383 202.5 L382 202.5 L382 199 L381 199 L381 202.5 L380 202.5 L380 202.5 L379 202.5 L379 199 L378 199 L378 199 L377 199 L377 199 L376 199 L376 206.57 L375 206.57 L375 206.57 L374 206.57 L374 199 L373 199 L373 211.13 L372 211.13 L372 206.57 L371 206.57 L371 206.57 L370 206.57 L370 206.57 L369 206.57 L369 202.5 L368 202.5 L368 202.5 L367 202.5 L367 202.5 L366 202.5 L366 199 L365 199 L365 206.5 L364 206.5 L364 199 L363 199 L363 199 L362 199 L362 202.5 L361 202.5 L361 202.5 L360 202.5 L360 250.75 L359 250.75 L359 250.75 L358 250.75 L358 206.57 L357 206.57 L357 199 L356 199 L356 199 L355 199 Z" fill="#ffff00" shape-rendering="crispEdges"/>
<path d="M667.5 200.5 L671.5 203.5 L708.5 203.5 L710.5 201.5 L718.5 200.5 L730.5 200.5 L735.5 203.5 L769.5 203.5 L772.5 201.5 L775.5 200.5 L791.5 200.5 L792.5 202.5 L832.5 202.5 L835.5 200.5 L851.5 200.5 L854.5 203.5 L860.5 203.5 L873.5 203.5 L873.5 245.5 L893.5 245.5 L893.5 224.5 L894.5 224.5 L894.5 198.5 L895.5 198.5 L897.5 201.5 L901.5 203.5 L914.5 203.5" fill="none" stroke="#0000ff" stroke-width="1" stroke-linejoin="miter" stroke-linecap="square" />
<path d="M667.5 201.5 L671.5 204.5 L708.5 204.5 L710.5 202.5 L718.5 201.5 L730.5 201.5 L735.5 204.5 L769.5 204.5 L772.5 202.5 L775.5 201.5 L791.5 201.5 L792.5 203.5 L832.5 203.5 L835.5 201.5 L851.5 201.5 L854.5 204.5 L860.5 204.5 L873.5 204.5 L873.5 246.5 L893.5 246.5 L893.5 225.5 L894.5 225.5 L894.5 199.5 L895.5 199.5 L897.5 202.5 L901.5 204.5 L914.5 204.5" fill="none" stroke="#0000ff" stroke-width="1" stroke-linejoin="miter" stroke-linecap="square" />
<g shape-rendering="crispEdges">
<rect x="872" y="203" width="2" height="14" fill="#0000ff"/>
<rect x="894" y="198" width="2" height="5" fill="#0000ff"/>
<rect x="893" y="203" width="2" height="23" fill="#0000ff"/>
<rect x="675" y="205" width="2" height="1" fill="#0000ff"/>
<rect x="677" y="205" width="1" height="1" fill="#0000ff"/>
<rect x="681" y="205" width="1" height="1" fill="#0000ff"/>
<rect x="686" y="205" width="3" height="1" fill="#0000ff"/>
<rect x="692" y="205" width="3" height="1" fill="#0000ff"/>
<rect x="695" y="205" width="2" height="1" fill="#0000ff"/>
<rect x="697" y="205" width="2" height="1" fill="#0000ff"/>
<rect x="699" y="205" width="4" height="1" fill="#0000ff"/>
<rect x="716" y="202" width="3" height="1" fill="#0000ff"/>
<rect x="719" y="202" width="1" height="1" fill="#0000ff"/>
<rect x="722" y="202" width="3" height="1" fill="#0000ff"/>
<rect x="725" y="202" width="2" height="1" fill="#0000ff"/>
<rect x="728" y="202" width="1" height="1" fill="#0000ff"/>
<rect x="729" y="202" width="2" height="1" fill="#0000ff"/>
<rect x="736" y="205" width="2" height="1" fill="#0000ff"/>
<rect x="738" y="205" width="1" height="1" fill="#0000ff"/>
<rect x="739" y="205" width="1" height="1" fill="#0000ff"/>
<rect x="740" y="205" width="4" height="1" fill="#0000ff"/>
<rect x="744" y="205" width="2" height="1" fill="#0000ff"/>
<rect x="746" y="205" width="3" height="1" fill="#0000ff"/>
<rect x="750" y="205" width="2" height="1" fill="#0000ff"/>
<rect x="756" y="205" width="1" height="1" fill="#0000ff"/>
<rect x="773" y="202" width="2" height="1" fill="#0000ff"/>
<rect x="775" y="202" width="4" height="1" fill="#0000ff"/>
<rect x="781" y="202" width="4" height="1" fill="#0000ff"/>
<rect x="787" y="202" width="4" height="1" fill="#0000ff"/>
<rect x="793" y="204" width="2" height="1" fill="#0000ff"/>
<rect x="802" y="204" width="2" height="1" fill="#0000ff"/>
<rect x="804" y="204" width="1" height="1" fill="#0000ff"/>
<rect x="805" y="204" width="3" height="1" fill="#0000ff"/>
<rect x="808" y="204" width="1" height="1" fill="#0000ff"/>
<rect x="809" y="204" width="2" height="1" fill="#0000ff"/>
<rect x="811" y="204" width="1" height="1" fill="#0000ff"/>
<rect x="816" y="204" width="3" height="1" fill="#0000ff"/>
<rect x="819" y="204" width="2" height="1" fill="#0000ff"/>
<rect x="821" y="204" width="1" height="1" fill="#0000ff"/>
<rect x="822" y="204" width="2" height="1" fill="#0000ff"/>
<rect x="824" y="204" width="3" height="1" fill="#0000ff"/>
<rect x="827" y="204" width="4" height="1" fill="#0000ff"/>
<rect x="831" y="204" width="1" height="1" fill="#0000ff"/>
<rect x="836" y="202" width="2" height="1" fill="#0000ff"/>
<rect x="838" y="202" width="2" height="1" fill="#0000ff"/>
<rect x="842" y="202" width="4" height="1" fill="#0000ff"/>
<rect x="846" y="202" width="1" height="1" fill="#0000ff"/>
<rect x="851" y="202" width="1" height="1" fill="#0000ff"/>
<rect x="855" y="205" width="3" height="1" fill="#0000ff"/>
<rect x="860" y="205" width="4" height="1" fill="#0000ff"/>
<rect x="864" y="205" width="1" height="1" fill="#0000ff"/>
<rect x="865" y="205" width="3" height="1" fill="#0000ff"/>
<rect x="872" y="205" width="1" height="1" fill="#0000ff"/>
<rect x="878" y="247" width="4" height="1" fill="#0000ff"/>
<rect x="883" y="247" width="2" height="1" fill="#0000ff"/>
<rect x="887" y="247" width="1" height="1" fill="#0000ff"/>
<rect x="890" y="247" width="2" height="1" fill="#0000ff"/>
<rect x="892" y="247" width="1" height="1" fill="#0000ff"/>
<rect x="902" y="205" width="4" height="1" fill="#0000ff"/>
<rect x="906" y="205" width="2" height="1" fill="#0000ff"/>
<rect x="912" y="205" width="2" height="1" fill="#0000ff"/>
<rect x="879" y="244" width="2" height="1" fill="#0000ff"/>
<rect x="883" y="244" width="1" height="1" fill="#0000ff"/>
<rect x="891" y="244" width="1" height="1" fill="#0000ff"/>
<rect x="892" y="244" width="1" height="1" fill="#0000ff"/>
</g>
<g shape-rendering="crispEdges">
<rect x="43.3" y="349.1" width="41.3" height="3.1" fill="#00ffff"/>
<rect x="84" y="349.1" width="1.2" height="20.5" fill="#00ffff"/>
<rect x="85" y="352" width="1" height="17.6" fill="#00ffff"/>
<rect x="84.4" y="365.7" width="21.2" height="1.1" fill="#00ffff"/>
<rect x="104.9" y="349.1" width="1" height="17.7" fill="#00ffff"/>
<rect x="105.3" y="349.1" width="41.6" height="3.1" fill="#00ffff"/>
<rect x="146.2" y="349.1" width="1.1" height="20.8" fill="#00ffff"/>
<rect x="146.5" y="366" width="20.8" height="1.1" fill="#00ffff"/>
<rect x="166.8" y="366" width="1" height="3.8" fill="#00ffff"/>
<rect x="167" y="368.8" width="103" height="1.1" fill="#00ffff"/>
<rect x="269.2" y="352" width="1.1" height="17.9" fill="#00ffff"/>
<rect x="269.6" y="352" width="20.8" height="4.2" fill="#00ffff"/>
<rect x="276" y="355" width="1" height="1" fill="#ffffff"/>
<rect x="277" y="355" width="1" height="1" fill="#ffffff"/>
<rect x="281" y="355" width="1" height="1" fill="#ffffff"/>
<rect x="282" y="355" width="1" height="1" fill="#ffffff"/>
<rect x="283" y="355" width="1" height="1" fill="#ffffff"/>
<rect x="286" y="355" width="1" height="1" fill="#ffffff"/>
<rect x="287" y="355" width="1" height="1" fill="#ffffff"/>
<rect x="288" y="355" width="1" height="1" fill="#ffffff"/>
<rect x="355.3" y="335.1" width="21.3" height="3.8" fill="#00ffff"/>
<rect x="357" y="338" width="1" height="1" fill="#ffffff"/>
<rect x="359" y="338" width="1" height="1" fill="#ffffff"/>
<rect x="360" y="338" width="1" height="1" fill="#ffffff"/>
<rect x="361" y="338" width="1" height="1" fill="#ffffff"/>
<rect x="362" y="338" width="1" height="1" fill="#ffffff"/>
<rect x="364" y="338" width="1" height="1" fill="#ffffff"/>
<rect x="365" y="338" width="1" height="1" fill="#ffffff"/>
<rect x="368" y="338" width="1" height="1" fill="#ffffff"/>
<rect x="370" y="338" width="1" height="1" fill="#ffffff"/>
<rect x="372" y="338" width="1" height="1" fill="#ffffff"/>
<rect x="376" y="335.1" width="1" height="33.8" fill="#00ffff"/>
<rect x="375" y="335.1" width="1" height="8.9" fill="#00ffff"/>
<rect x="376.4" y="367.9" width="20.2" height="1" fill="#00ffff"/>
<rect x="396" y="336" width="1.1" height="32.9" fill="#00ffff"/>
<rect x="397" y="336" width="1" height="28" fill="#00ffff"/>
<rect x="396.4" y="336" width="20" height="4" fill="#00ffff"/>
<rect x="397" y="336" width="1" height="1" fill="#ffffff"/>
<rect x="398" y="339" width="1" height="1" fill="#ffffff"/>
<rect x="398" y="336" width="1" height="1" fill="#ffffff"/>
<rect x="399" y="339" width="1" height="1" fill="#ffffff"/>
<rect x="399" y="336" width="1" height="1" fill="#ffffff"/>
<rect x="400" y="339" width="1" height="1" fill="#ffffff"/>
<rect x="401" y="339" width="1" height="1" fill="#ffffff"/>
<rect x="402" y="339" width="1" height="1" fill="#ffffff"/>
<rect x="404" y="339" width="1" height="1" fill="#ffffff"/>
<rect x="405" y="336" width="1" height="1" fill="#ffffff"/>
<rect x="406" y="336" width="1" height="1" fill="#ffffff"/>
<rect x="408" y="339" width="1" height="1" fill="#ffffff"/>
<rect x="409" y="339" width="1" height="1" fill="#ffffff"/>
<rect x="410" y="339" width="1" height="1" fill="#ffffff"/>
<rect x="410" y="336" width="1" height="1" fill="#ffffff"/>
<rect x="411" y="339" width="1" height="1" fill="#ffffff"/>
<rect x="412" y="339" width="1" height="1" fill="#ffffff"/>
<rect x="414" y="339" width="1" height="1" fill="#ffffff"/>
<rect x="416.4" y="335.1" width="22" height="3.8" fill="#00ffff"/>
<rect x="417" y="338" width="1" height="1" fill="#ffffff"/>
<rect x="421" y="338" width="1" height="1" fill="#ffffff"/>
<rect x="423" y="338" width="1" height="1" fill="#ffffff"/>
<rect x="424" y="338" width="1" height="1" fill="#ffffff"/>
<rect x="425" y="338" width="1" height="1" fill="#ffffff"/>
<rect x="427" y="338" width="1" height="1" fill="#ffffff"/>
<rect x="429" y="338" width="1" height="1" fill="#ffffff"/>
<rect x="430" y="338" width="1" height="1" fill="#ffffff"/>
<rect x="431" y="338" width="1" height="1" fill="#ffffff"/>
<rect x="432" y="338" width="1" height="1" fill="#ffffff"/>
<rect x="433" y="338" width="1" height="1" fill="#ffffff"/>
<rect x="434" y="338" width="1" height="1" fill="#ffffff"/>
<rect x="437" y="338" width="1" height="1" fill="#ffffff"/>
<rect x="437.2" y="335.1" width="1.8" height="33.8" fill="#00ffff"/>
<rect x="438.2" y="367.9" width="20.7" height="1" fill="#00ffff"/>
<rect x="458.2" y="335.8" width="1.1" height="33.1" fill="#00ffff"/>
<rect x="458.7" y="335.8" width="122.9" height="3.9" fill="#00ffff"/>
<rect x="459" y="339" width="1" height="1" fill="#ffffff"/>
<rect x="462" y="339" width="1" height="1" fill="#ffffff"/>
<rect x="463" y="339" width="1" height="1" fill="#ffffff"/>
<rect x="466" y="339" width="1" height="1" fill="#ffffff"/>
<rect x="467" y="339" width="1" height="1" fill="#ffffff"/>
<rect x="468" y="339" width="1" height="1" fill="#ffffff"/>
<rect x="470" y="339" width="1" height="1" fill="#ffffff"/>
<rect x="471" y="339" width="1" height="1" fill="#ffffff"/>
<rect x="473" y="339" width="1" height="1" fill="#ffffff"/>
<rect x="478" y="339" width="1" height="1" fill="#ffffff"/>
<rect x="479" y="339" width="1" height="1" fill="#ffffff"/>
<rect x="480" y="339" width="1" height="1" fill="#ffffff"/>
<rect x="482" y="339" width="1" height="1" fill="#ffffff"/>
<rect x="483" y="339" width="1" height="1" fill="#ffffff"/>
<rect x="487" y="339" width="1" height="1" fill="#ffffff"/>
<rect x="488" y="339" width="1" height="1" fill="#ffffff"/>
<rect x="490" y="339" width="1" height="1" fill="#ffffff"/>
<rect x="491" y="339" width="1" height="1" fill="#ffffff"/>
<rect x="492" y="339" width="1" height="1" fill="#ffffff"/>
<rect x="493" y="339" width="1" height="1" fill="#ffffff"/>
<rect x="494" y="339" width="1" height="1" fill="#ffffff"/>
<rect x="498" y="339" width="1" height="1" fill="#ffffff"/>
<rect x="499" y="339" width="1" height="1" fill="#ffffff"/>
<rect x="500" y="339" width="1" height="1" fill="#ffffff"/>
<rect x="501" y="339" width="1" height="1" fill="#ffffff"/>
<rect x="504" y="339" width="1" height="1" fill="#ffffff"/>
<rect x="510" y="339" width="1" height="1" fill="#ffffff"/>
<rect x="512" y="339" width="1" height="1" fill="#ffffff"/>
<rect x="513" y="339" width="1" height="1" fill="#ffffff"/>
<rect x="516" y="339" width="1" height="1" fill="#ffffff"/>
<rect x="520" y="339" width="1" height="1" fill="#ffffff"/>
<rect x="522" y="339" width="1" height="1" fill="#ffffff"/>
<rect x="524" y="339" width="1" height="1" fill="#ffffff"/>
<rect x="528" y="339" width="1" height="1" fill="#ffffff"/>
<rect x="532" y="339" width="1" height="1" fill="#ffffff"/>
<rect x="540" y="339" width="1" height="1" fill="#ffffff"/>
<rect x="543" y="339" width="1" height="1" fill="#ffffff"/>
<rect x="547" y="339" width="1" height="1" fill="#ffffff"/>
<rect x="551" y="339" width="1" height="1" fill="#ffffff"/>
<rect x="556" y="339" width="1" height="1" fill="#ffffff"/>
<rect x="557" y="339" width="1" height="1" fill="#ffffff"/>
<rect x="558" y="339" width="1" height="1" fill="#ffffff"/>
<rect x="560" y="339" width="1" height="1" fill="#ffffff"/>
<rect x="563" y="339" width="1" height="1" fill="#ffffff"/>
<rect x="564" y="339" width="1" height="1" fill="#ffffff"/>
<rect x="565" y="339" width="1" height="1" fill="#ffffff"/>
<rect x="566" y="339" width="1" height="1" fill="#ffffff"/>
<rect x="567" y="339" width="1" height="1" fill="#ffffff"/>
<rect x="568" y="339" width="1" height="1" fill="#ffffff"/>
<rect x="569" y="339" width="1" height="1" fill="#ffffff"/>
<rect x="570" y="339" width="1" height="1" fill="#ffffff"/>
<rect x="571" y="339" width="1" height="1" fill="#ffffff"/>
<rect x="572" y="339" width="1" height="1" fill="#ffffff"/>
<rect x="573" y="339" width="1" height="1" fill="#ffffff"/>
<rect x="576" y="339" width="1" height="1" fill="#ffffff"/>
<rect x="578" y="339" width="1" height="1" fill="#ffffff"/>
<rect x="579" y="339" width="1" height="1" fill="#ffffff"/>
<rect x="580" y="339" width="1" height="1" fill="#ffffff"/>
<rect x="581.6" y="338.2" width="20.8" height="4.8" fill="#00ffff"/>
<rect x="583" y="342" width="1" height="1" fill="#ffffff"/>
<rect x="585" y="342" width="1" height="1" fill="#ffffff"/>
<rect x="586" y="342" width="1" height="1" fill="#ffffff"/>
<rect x="588" y="342" width="1" height="1" fill="#ffffff"/>
<rect x="590" y="342" width="1" height="1" fill="#ffffff"/>
<rect x="597" y="342" width="1" height="1" fill="#ffffff"/>
<rect x="598" y="342" width="1" height="1" fill="#ffffff"/>
<rect x="667.3" y="367.8" width="21.5" height="2.1" fill="#00ffff"/>
<rect x="688" y="335.6" width="1.3" height="34.3" fill="#00ffff"/>
<rect x="688.6" y="337" width="1.6" height="5" fill="#00ffff"/>
<rect x="689.5" y="339.8" width="18.9" height="3.8" fill="#00ffff"/>
<rect x="692" y="340" width="1" height="1" fill="#ffffff"/>
<rect x="694" y="340" width="1" height="1" fill="#ffffff"/>
<rect x="695" y="340" width="1" height="1" fill="#ffffff"/>
<rect x="698" y="340" width="1" height="1" fill="#ffffff"/>
<rect x="701" y="340" width="1" height="1" fill="#ffffff"/>
<rect x="702" y="340" width="1" height="1" fill="#ffffff"/>
<rect x="703" y="340" width="1" height="1" fill="#ffffff"/>
<rect x="704" y="340" width="1" height="1" fill="#ffffff"/>
<rect x="706" y="340" width="1" height="1" fill="#ffffff"/>
<rect x="708.4" y="341.9" width="21.1" height="4.7" fill="#00ffff"/>
<rect x="710" y="346" width="1" height="1" fill="#ffffff"/>
<rect x="711" y="346" width="1" height="1" fill="#ffffff"/>
<rect x="712" y="346" width="1" height="1" fill="#ffffff"/>
<rect x="713" y="346" width="1" height="1" fill="#ffffff"/>
<rect x="713" y="342" width="1" height="1" fill="#ffffff"/>
<rect x="714" y="346" width="1" height="1" fill="#ffffff"/>
<rect x="714" y="342" width="1" height="1" fill="#ffffff"/>
<rect x="716" y="346" width="1" height="1" fill="#ffffff"/>
<rect x="717" y="342" width="1" height="1" fill="#ffffff"/>
<rect x="718" y="346" width="1" height="1" fill="#ffffff"/>
<rect x="718" y="342" width="1" height="1" fill="#ffffff"/>
<rect x="720" y="346" width="1" height="1" fill="#ffffff"/>
<rect x="720" y="342" width="1" height="1" fill="#ffffff"/>
<rect x="721" y="346" width="1" height="1" fill="#ffffff"/>
<rect x="722" y="346" width="1" height="1" fill="#ffffff"/>
<rect x="723" y="346" width="1" height="1" fill="#ffffff"/>
<rect x="725" y="346" width="1" height="1" fill="#ffffff"/>
<rect x="726" y="346" width="1" height="1" fill="#ffffff"/>
<rect x="727" y="346" width="1" height="1" fill="#ffffff"/>
<rect x="727" y="342" width="1" height="1" fill="#ffffff"/>
<rect x="728" y="346" width="1" height="1" fill="#ffffff"/>
<rect x="728.9" y="342.1" width="1" height="27.8" fill="#00ffff"/>
<rect x="729.3" y="367.8" width="21.3" height="2.1" fill="#00ffff"/>
<rect x="749.8" y="335.6" width="1.3" height="34.3" fill="#00ffff"/>
<rect x="750.4" y="337" width="1.6" height="5" fill="#00ffff"/>
<rect x="751.3" y="339.8" width="19.3" height="3.8" fill="#00ffff"/>
<rect x="752" y="340" width="1" height="1" fill="#ffffff"/>
<rect x="755" y="340" width="1" height="1" fill="#ffffff"/>
<rect x="756" y="340" width="1" height="1" fill="#ffffff"/>
<rect x="757" y="340" width="1" height="1" fill="#ffffff"/>
<rect x="760" y="340" width="1" height="1" fill="#ffffff"/>
<rect x="761" y="340" width="1" height="1" fill="#ffffff"/>
<rect x="763" y="340" width="1" height="1" fill="#ffffff"/>
<rect x="767" y="340" width="1" height="1" fill="#ffffff"/>
<rect x="769" y="340" width="1" height="1" fill="#ffffff"/>
<rect x="770.6" y="341.9" width="63.1" height="4.7" fill="#00ffff"/>
<rect x="771" y="346" width="1" height="1" fill="#ffffff"/>
<rect x="772" y="346" width="1" height="1" fill="#ffffff"/>
<rect x="772" y="342" width="1" height="1" fill="#ffffff"/>
<rect x="773" y="342" width="1" height="1" fill="#ffffff"/>
<rect x="775" y="346" width="1" height="1" fill="#ffffff"/>
<rect x="775" y="342" width="1" height="1" fill="#ffffff"/>
<rect x="777" y="346" width="1" height="1" fill="#ffffff"/>
<rect x="778" y="346" width="1" height="1" fill="#ffffff"/>
<rect x="779" y="346" width="1" height="1" fill="#ffffff"/>
<rect x="779" y="342" width="1" height="1" fill="#ffffff"/>
<rect x="781" y="346" width="1" height="1" fill="#ffffff"/>
<rect x="781" y="342" width="1" height="1" fill="#ffffff"/>
<rect x="783" y="342" width="1" height="1" fill="#ffffff"/>
<rect x="786" y="346" width="1" height="1" fill="#ffffff"/>
<rect x="787" y="346" width="1" height="1" fill="#ffffff"/>
<rect x="789" y="346" width="1" height="1" fill="#ffffff"/>
<rect x="789" y="342" width="1" height="1" fill="#ffffff"/>
<rect x="790" y="342" width="1" height="1" fill="#ffffff"/>
<rect x="792" y="346" width="1" height="1" fill="#ffffff"/>
<rect x="793" y="346" width="1" height="1" fill="#ffffff"/>
<rect x="793" y="342" width="1" height="1" fill="#ffffff"/>
<rect x="794" y="346" width="1" height="1" fill="#ffffff"/>
<rect x="794" y="342" width="1" height="1" fill="#ffffff"/>
<rect x="795" y="346" width="1" height="1" fill="#ffffff"/>
<rect x="797" y="346" width="1" height="1" fill="#ffffff"/>
<rect x="798" y="346" width="1" height="1" fill="#ffffff"/>
<rect x="799" y="346" width="1" height="1" fill="#ffffff"/>
<rect x="800" y="346" width="1" height="1" fill="#ffffff"/>
<rect x="800" y="342" width="1" height="1" fill="#ffffff"/>
<rect x="801" y="342" width="1" height="1" fill="#ffffff"/>
<rect x="804" y="342" width="1" height="1" fill="#ffffff"/>
<rect x="805" y="342" width="1" height="1" fill="#ffffff"/>
<rect x="807" y="346" width="1" height="1" fill="#ffffff"/>
<rect x="807" y="342" width="1" height="1" fill="#ffffff"/>
<rect x="808" y="346" width="1" height="1" fill="#ffffff"/>
<rect x="809" y="346" width="1" height="1" fill="#ffffff"/>
<rect x="810" y="342" width="1" height="1" fill="#ffffff"/>
<rect x="811" y="342" width="1" height="1" fill="#ffffff"/>
<rect x="812" y="346" width="1" height="1" fill="#ffffff"/>
<rect x="813" y="346" width="1" height="1" fill="#ffffff"/>
<rect x="814" y="346" width="1" height="1" fill="#ffffff"/>
<rect x="814" y="342" width="1" height="1" fill="#ffffff"/>
<rect x="815" y="342" width="1" height="1" fill="#ffffff"/>
<rect x="816" y="342" width="1" height="1" fill="#ffffff"/>
<rect x="817" y="346" width="1" height="1" fill="#ffffff"/>
<rect x="818" y="342" width="1" height="1" fill="#ffffff"/>
<rect x="819" y="346" width="1" height="1" fill="#ffffff"/>
<rect x="821" y="346" width="1" height="1" fill="#ffffff"/>
<rect x="822" y="346" width="1" height="1" fill="#ffffff"/>
<rect x="822" y="342" width="1" height="1" fill="#ffffff"/>
<rect x="823" y="346" width="1" height="1" fill="#ffffff"/>
<rect x="824" y="346" width="1" height="1" fill="#ffffff"/>
<rect x="824" y="342" width="1" height="1" fill="#ffffff"/>
<rect x="825" y="346" width="1" height="1" fill="#ffffff"/>
<rect x="827" y="346" width="1" height="1" fill="#ffffff"/>
<rect x="828" y="346" width="1" height="1" fill="#ffffff"/>
<rect x="830" y="346" width="1" height="1" fill="#ffffff"/>
<rect x="830" y="342" width="1" height="1" fill="#ffffff"/>
<rect x="831" y="346" width="1" height="1" fill="#ffffff"/>
<rect x="831" y="342" width="1" height="1" fill="#ffffff"/>
<rect x="832" y="346" width="1" height="1" fill="#ffffff"/>
<rect x="833.7" y="341.9" width="59.9" height="4.1" fill="#00ffff"/>
<rect x="835" y="345" width="1" height="1" fill="#ffffff"/>
<rect x="837" y="345" width="1" height="1" fill="#ffffff"/>
<rect x="838" y="345" width="1" height="1" fill="#ffffff"/>
<rect x="838" y="342" width="1" height="1" fill="#ffffff"/>
<rect x="839" y="345" width="1" height="1" fill="#ffffff"/>
<rect x="840" y="345" width="1" height="1" fill="#ffffff"/>
<rect x="841" y="345" width="1" height="1" fill="#ffffff"/>
<rect x="841" y="342" width="1" height="1" fill="#ffffff"/>
<rect x="842" y="345" width="1" height="1" fill="#ffffff"/>
<rect x="842" y="342" width="1" height="1" fill="#ffffff"/>
<rect x="843" y="345" width="1" height="1" fill="#ffffff"/>
<rect x="843" y="342" width="1" height="1" fill="#ffffff"/>
<rect x="844" y="342" width="1" height="1" fill="#ffffff"/>
<rect x="848" y="342" width="1" height="1" fill="#ffffff"/>
<rect x="849" y="342" width="1" height="1" fill="#ffffff"/>
<rect x="851" y="345" width="1" height="1" fill="#ffffff"/>
<rect x="851" y="342" width="1" height="1" fill="#ffffff"/>
<rect x="852" y="345" width="1" height="1" fill="#ffffff"/>
<rect x="852" y="342" width="1" height="1" fill="#ffffff"/>
<rect x="853" y="345" width="1" height="1" fill="#ffffff"/>
<rect x="855" y="345" width="1" height="1" fill="#ffffff"/>
<rect x="856" y="345" width="1" height="1" fill="#ffffff"/>
<rect x="857" y="342" width="1" height="1" fill="#ffffff"/>
<rect x="858" y="345" width="1" height="1" fill="#ffffff"/>
<rect x="860" y="345" width="1" height="1" fill="#ffffff"/>
<rect x="861" y="345" width="1" height="1" fill="#ffffff"/>
<rect x="861" y="342" width="1" height="1" fill="#ffffff"/>
<rect x="863" y="345" width="1" height="1" fill="#ffffff"/>
<rect x="865" y="345" width="1" height="1" fill="#ffffff"/>
<rect x="865" y="342" width="1" height="1" fill="#ffffff"/>
<rect x="866" y="345" width="1" height="1" fill="#ffffff"/>
<rect x="868" y="345" width="1" height="1" fill="#ffffff"/>
<rect x="868" y="342" width="1" height="1" fill="#ffffff"/>
<rect x="869" y="345" width="1" height="1" fill="#ffffff"/>
<rect x="870" y="345" width="1" height="1" fill="#ffffff"/>
<rect x="870" y="342" width="1" height="1" fill="#ffffff"/>
<rect x="871" y="345" width="1" height="1" fill="#ffffff"/>
<rect x="872" y="345" width="1" height="1" fill="#ffffff"/>
<rect x="872" y="342" width="1" height="1" fill="#ffffff"/>
<rect x="873" y="342" width="1" height="1" fill="#ffffff"/>
<rect x="875" y="342" width="1" height="1" fill="#ffffff"/>
<rect x="876" y="345" width="1" height="1" fill="#ffffff"/>
<rect x="876" y="342" width="1" height="1" fill="#ffffff"/>
<rect x="879" y="345" width="1" height="1" fill="#ffffff"/>
<rect x="879" y="342" width="1" height="1" fill="#ffffff"/>
<rect x="884" y="345" width="1" height="1" fill="#ffffff"/>
<rect x="885" y="345" width="1" height="1" fill="#ffffff"/>
<rect x="885" y="342" width="1" height="1" fill="#ffffff"/>
<rect x="886" y="345" width="1" height="1" fill="#ffffff"/>
<rect x="886" y="342" width="1" height="1" fill="#ffffff"/>
<rect x="888" y="345" width="1" height="1" fill="#ffffff"/>
<rect x="888" y="342" width="1" height="1" fill="#ffffff"/>
<rect x="889" y="345" width="1" height="1" fill="#ffffff"/>
<rect x="889" y="342" width="1" height="1" fill="#ffffff"/>
<rect x="890" y="345" width="1" height="1" fill="#ffffff"/>
<rect x="891" y="342" width="1" height="1" fill="#ffffff"/>
<rect x="892" y="345" width="1" height="1" fill="#ffffff"/>
<rect x="893.6" y="344" width="20.8" height="5.8" fill="#00ffff"/>
<rect x="894" y="349" width="1" height="1" fill="#ffffff"/>
<rect x="895" y="349" width="1" height="1" fill="#ffffff"/>
<rect x="896" y="349" width="1" height="1" fill="#ffffff"/>
<rect x="897" y="349" width="1" height="1" fill="#ffffff"/>
<rect x="898" y="349" width="1" height="1" fill="#ffffff"/>
<rect x="900" y="349" width="1" height="1" fill="#ffffff"/>
<rect x="913" y="349" width="1" height="1" fill="#ffffff"/>
<rect x="43" y="505.7" width="227" height="2.4" fill="#00ffff"/>
<rect x="46" y="507" width="1" height="1" fill="#ffffff"/>
<rect x="51" y="507" width="1" height="1" fill="#ffffff"/>
<rect x="54" y="507" width="1" height="1" fill="#ffffff"/>
<rect x="55" y="507" width="1" height="1" fill="#ffffff"/>
<rect x="65" y="507" width="1" height="1" fill="#ffffff"/>
<rect x="69" y="507" width="1" height="1" fill="#ffffff"/>
<rect x="76" y="507" width="1" height="1" fill="#ffffff"/>
<rect x="87" y="507" width="1" height="1" fill="#ffffff"/>
<rect x="90" y="507" width="1" height="1" fill="#ffffff"/>
<rect x="92" y="507" width="1" height="1" fill="#ffffff"/>
<rect x="114" y="507" width="1" height="1" fill="#ffffff"/>
<rect x="116" y="507" width="1" height="1" fill="#ffffff"/>
<rect x="127" y="507" width="1" height="1" fill="#ffffff"/>
<rect x="133" y="507" width="1" height="1" fill="#ffffff"/>
<rect x="151" y="507" width="1" height="1" fill="#ffffff"/>
<rect x="152" y="507" width="1" height="1" fill="#ffffff"/>
<rect x="161" y="507" width="1" height="1" fill="#ffffff"/>
<rect x="177" y="507" width="1" height="1" fill="#ffffff"/>
<rect x="185" y="507" width="1" height="1" fill="#ffffff"/>
<rect x="200" y="507" width="1" height="1" fill="#ffffff"/>
<rect x="214" y="507" width="1" height="1" fill="#ffffff"/>
<rect x="215" y="507" width="1" height="1" fill="#ffffff"/>
<rect x="224" y="507" width="1" height="1" fill="#ffffff"/>
<rect x="236" y="507" width="1" height="1" fill="#ffffff"/>
<rect x="239" y="507" width="1" height="1" fill="#ffffff"/>
<rect x="242" y="507" width="1" height="1" fill="#ffffff"/>
<rect x="252" y="507" width="1" height="1" fill="#ffffff"/>
<rect x="253" y="507" width="1" height="1" fill="#ffffff"/>
<rect x="254" y="507" width="1" height="1" fill="#ffffff"/>
<rect x="260" y="507" width="1" height="1" fill="#ffffff"/>
<rect x="264" y="507" width="1" height="1" fill="#ffffff"/>
<rect x="269.3" y="495" width="1.1" height="13.1" fill="#00ffff"/>
<rect x="269.7" y="497" width="21.3" height="1.1" fill="#00ffff"/>
<rect x="270" y="495" width="2" height="3" fill="#00ffff"/>
<rect x="272" y="496" width="2" height="2" fill="#00ffff"/>
<rect x="285" y="497" width="6" height="2" fill="#00ffff"/>
<rect x="286" y="498" width="1" height="1" fill="#ffffff"/>
<rect x="289" y="498" width="1" height="1" fill="#ffffff"/>
<rect x="290" y="498" width="1" height="1" fill="#ffffff"/>
</g>
</svg>
</body></html>
